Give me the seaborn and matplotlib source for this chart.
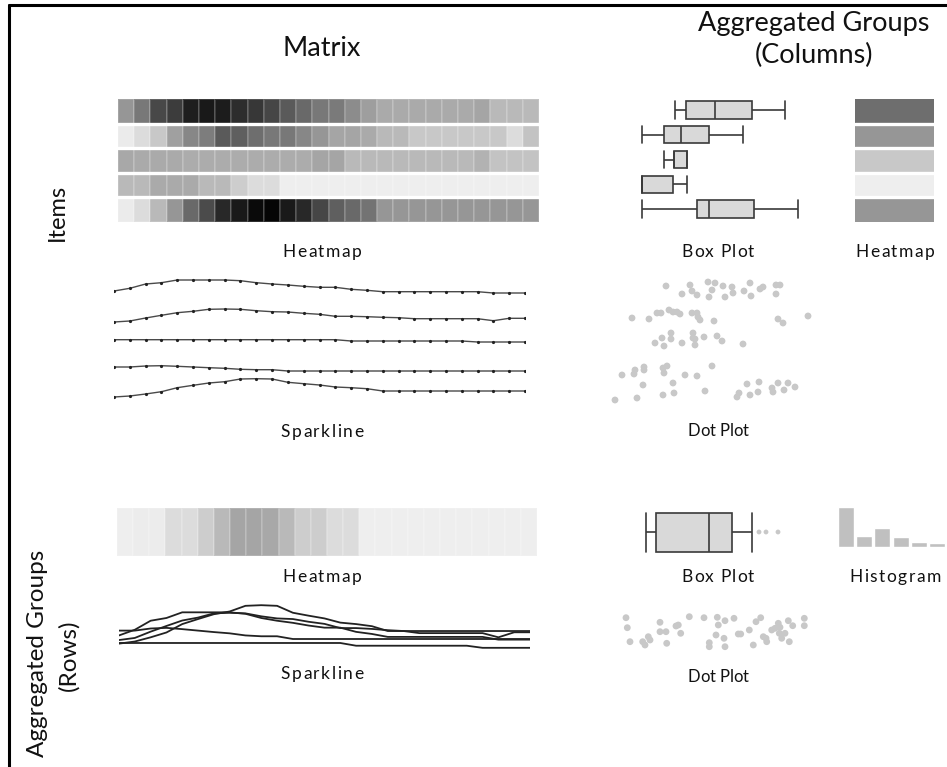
import matplotlib
matplotlib.use("Agg")
import matplotlib.pyplot as plt
import seaborn as sns
import pandas as pd
import numpy as np
from matplotlib.lines import Line2D
from matplotlib.font_manager import FontProperties

# ---- data (darkness 0..255) ----
item_names = ["A", "B", "C", "D", "E"]

item_heat = [
    [105, 135, 183, 195, 225, 230, 227, 210, 200, 185, 165, 150, 135, 133, 115, 97, 85, 85, 85, 85, 85, 85, 90, 70, 70, 70],
    [20, 35, 55, 95, 120, 130, 165, 160, 145, 135, 135, 120, 105, 90, 90, 85, 70, 70, 55, 55, 55, 55, 55, 55, 35, 60],
    [87, 85, 85, 85, 83, 83, 83, 83, 83, 83, 83, 83, 90, 90, 70, 70, 70, 70, 70, 70, 70, 70, 77, 60, 60, 60],
    [70, 70, 85, 85, 85, 70, 70, 50, 35, 35, 17, 17, 17, 17, 17, 17, 17, 17, 17, 17, 17, 17, 17, 17, 17, 17],
    [20, 35, 70, 105, 150, 180, 215, 230, 245, 250, 230, 215, 185, 160, 150, 140, 105, 105, 105, 105, 105, 105, 105, 105, 105, 105],
]
item_heat_agg = [145, 105, 55, 17, 105]
row_heat_agg = [17, 19, 19, 35, 35, 50, 70, 90, 90, 87, 70, 50, 50, 35, 35,
                17, 17, 17, 17, 17, 17, 17, 17, 17, 17, 17]

# sparkline values (rise above each line's own minimum)
spark_1 = [2.0, 4.7, 9.0, 10.3, 13.0, 13.0, 13.0, 13.0, 12.3, 10.3, 9.0, 8.0, 6.7, 5.7,
           5.7, 3.7, 2.7, 1.3, 1.3, 1.3, 1.3, 1.3, 1.3, 1.3, 0, 0, 0]
spark_2 = [0, 1.0, 4.0, 6.7, 9.3, 10.7, 12.7, 13.0, 12.7, 11.3, 10.3, 10.0, 8.7, 7.7,
           5.7, 5.7, 5.3, 4.7, 4.3, 3.3, 3.3, 3.3, 3.3, 3.3, 1.3, 3.7, 3.7]
spark_3 = [2.3] * 15 + [1.0] * 8 + [0] * 4
spark_4 = [4.0, 4.0, 5.0, 5.3, 4.7, 4.0, 3.3, 2.7, 1.7, 1.3, 1.3] + [0] * 16
spark_5 = [0, 1.0, 3.0, 5.3, 9.3, 11.7, 14.0, 15.3, 18.0, 18.3, 18.0, 14.7, 13.3, 12.0,
           10.0, 9.3, 8.3] + [6.0] * 10
sparks = [spark_1, spark_2, spark_3, spark_4, spark_5]
spark_offsets = [107, 78, 58, 29, 3]          # item rows
agg_spark_offsets = [9.7, 9.5, 5.8, 10.0, 7.8]  # overlaid rows

# box plot five-number summaries per item
item_box_values = [
    [75, 86, 115, 152, 185],
    [42, 64, 81, 109, 143],
    [64, 74, 74, 87, 87],
    [42, 42, 42, 73, 87],
    [42, 97, 109, 154, 198],
]
agg_box_values = [46, 56, 109, 132, 152]
agg_box_fliers = [159, 166, 178]

# dot plot, items
dots_x = [
    [66, 90, 92, 82, 97, 108, 115, 112, 109, 123, 132, 133, 125, 144, 150, 151, 160, 163, 176, 180, 176],
    [32, 49, 57, 61, 69, 73, 77, 80, 92, 97, 98, 100, 114, 178, 183, 208],
    [71, 62, 71, 55, 64, 82, 93, 93, 95, 95, 104, 117, 122, 143],
    [22, 34, 35, 44, 44, 63, 67, 64, 85, 97, 112],
    [43, 73, 15, 37, 63, 74, 105, 137, 139, 147, 150, 158, 159, 172, 173, 178, 184, 188, 195],
]
dots_y = [
    [119, 120, 114, 111, 110, 123, 122, 115, 108, 119, 118, 112, 108, 114, 122, 109, 116, 118, 120, 120, 111],
    [87, 86, 92, 92, 95, 93, 93, 91, 92, 92, 88, 85, 84, 86, 82, 89],
    [72, 67, 66, 62, 59, 62, 72, 67, 66, 60, 68, 69, 64, 61],
    [30, 31, 35, 38, 35, 37, 39, 32, 30, 29, 39],
    [20, 22, 5, 7, 10, 12, 14, 8, 12, 21, 10, 13, 23, 17, 13, 22, 15, 22, 18],
]

# dot plot, aggregated row
agg_dots_x = [26, 27.3, 30, 42.7, 45, 48.3, 50, 60, 60, 66, 66.7, 76, 78.3, 80.7, 89.3, 104,
              117.3, 118.3, 125, 134, 116, 124, 125, 109.3, 109.3, 138.3, 140.7, 149.3, 153.3,
              156, 160.7, 163.3, 166, 166.7, 171.7, 175, 178.3, 180, 179.3, 181.7, 185, 188.3,
              189.3, 192.7, 204.3, 204.3]
agg_dots_y = [37.3, 27.3, 13.3, 13.3, 10, 18.3, 15, 32.7, 23.3, 23.3, 11.7, 29, 30, 21.7, 38.3,
              37.3, 37.7, 30, 34.3, 36.7, 20, 16.7, 8.3, 12.3, 8.3, 21, 21, 25, 10, 33.3, 37.3,
              18.3, 16.7, 13.3, 25, 26.7, 31.7, 27.7, 21.7, 16.7, 21.7, 34.3, 13.3, 29.3, 36.7,
              29.3]

hist_counts = [40, 11, 19, 10, 5, 4]

W, H = 947, 767
BOX_FILL = "#d9d9d9"
BOX_LINE = "#3a3a3a"
DOT = "#c8c8c8"
FAMILY = ['Lato', 'DejaVu Sans']
SEP = (1, 1, 1, 0.15)

sns.set_theme(style="white")
plt.rcParams['font.family'] = FAMILY

fig = plt.figure(figsize=(W / 100, H / 100), dpi=100)
renderer = fig.canvas.get_renderer()


def px_axes(x0, y0, x1, y1):
    return fig.add_axes([x0 / W, 1 - y1 / H, (x1 - x0) / W, (y1 - y0) / H])


def title(x, y, s, size, **kw):
    fig.text(x / W, 1 - y / H, s, ha="center", va="center", fontsize=size,
             color="#111111", **kw)


def label(x, base, s, size=12.5, spacing=1.5):
    # centred label with a little letter spacing, drawn on a common baseline
    prop = FontProperties(family=FAMILY, size=size)

    def width(t):
        return renderer.get_text_width_height_descent(t, prop, ismath=False)[0] if t else 0.0

    total = width(s) + spacing * (len(s) - 1)
    left = x - total / 2
    for i, ch in enumerate(s):
        if ch == " ":
            continue
        cx = left + width(s[:i]) + spacing * i
        fig.text(cx / W, 1 - base / H, ch, ha="left", va="baseline",
                 fontproperties=prop, color="#111111")


# ---- items heatmap ----
ax = px_axes(118, 99, 539, 222)
sns.heatmap(pd.DataFrame(item_heat), cmap="gray_r", vmin=0, vmax=255, cbar=False,
            linewidths=0.3, linecolor=SEP, ax=ax)
for r in range(1, 5):
    ax.axhline(r, color="white", lw=2.4)
ax.set_axis_off()

# ---- items aggregated heatmap column ----
ax = px_axes(855, 99, 934, 222)
sns.heatmap(pd.DataFrame({"agg": item_heat_agg}), cmap="gray_r", vmin=0, vmax=255,
            cbar=False, ax=ax)
for r in range(1, 5):
    ax.axhline(r, color="white", lw=2.4)
ax.set_axis_off()

# ---- items box plots ----
ax = px_axes(600, 97.6, 820, 221.4)
box_df = pd.DataFrame({
    "item": np.repeat(item_names, 5),
    "value": np.concatenate(item_box_values),
})
sns.boxplot(data=box_df, x="value", y="item", orient="h", whis=(0, 100), width=0.7,
            color=BOX_FILL, saturation=1, linecolor=BOX_LINE, linewidth=1.2,
            showfliers=False, capwidths=0.7, ax=ax)
ax.set_xlim(0, 220)
ax.set_axis_off()

# ---- items sparklines ----
ax = px_axes(114, 270, 525, 400)
for vals, off in zip(sparks, spark_offsets):
    sns.lineplot(x=np.arange(len(vals)), y=np.array(vals) + off, ax=ax, color="#4a4a4a",
                 lw=1.0, marker="o", markersize=2.3, markeredgewidth=0,
                 markerfacecolor="#222222")
ax.set_xlim(0, 26)
ax.set_ylim(0, 130)
ax.set_axis_off()

# ---- items dot plot ----
ax = px_axes(600, 275, 820, 405)
for xs, ys in zip(dots_x, dots_y):
    sns.scatterplot(x=xs, y=ys, color=DOT, s=24, edgecolor="none", ax=ax)
ax.set_xlim(0, 220)
ax.set_ylim(0, 130)
ax.set_axis_off()

# ---- aggregated row heatmap ----
ax = px_axes(117, 508, 537, 556)
sns.heatmap(pd.DataFrame([row_heat_agg]), cmap="gray_r", vmin=0, vmax=255, cbar=False,
            linewidths=0.3, linecolor=SEP, ax=ax)
ax.set_axis_off()

# ---- aggregated row box plot ----
ax = px_axes(600, 502, 820, 562)
sns.boxplot(x=agg_box_values, orient="h", whis=(0, 100), width=0.65, color=BOX_FILL,
            saturation=1, linecolor=BOX_LINE, linewidth=1.2, showfliers=False,
            capwidths=0.65, ax=ax)
sns.scatterplot(x=agg_box_fliers, y=[0] * len(agg_box_fliers), color=DOT, s=12,
                edgecolor="none", ax=ax)
ax.set_xlim(0, 220)
ax.set_ylim(0.5, -0.5)
ax.set_axis_off()

# ---- aggregated row histogram ----
ax = px_axes(836.8, 507, 946.2, 547)
sns.barplot(x=list(range(len(hist_counts))), y=hist_counts, color="#c0c0c0",
            saturation=1, width=0.88, ax=ax)
ax.set_xlim(-0.5, 5.5)
ax.set_ylim(0, 40)
ax.set_axis_off()

# ---- aggregated row sparkline ----
ax = px_axes(119, 590, 530, 660)
for vals, off in zip(sparks, agg_spark_offsets):
    sns.lineplot(x=np.arange(len(vals)), y=np.array(vals) + off, ax=ax, color="#222222",
                 lw=1.3)
ax.set_xlim(0, 26)
ax.set_ylim(0, 70 / 2.1)
ax.set_axis_off()

# ---- aggregated row dot plot ----
ax = px_axes(600, 605, 820, 655)
sns.scatterplot(x=agg_dots_x, y=agg_dots_y, color=DOT, s=24, edgecolor="none", ax=ax)
ax.set_xlim(0, 220)
ax.set_ylim(0, 50)
ax.set_axis_off()

# ---- text ----
title(322, 49, "Matrix", 19.5)
title(814, 24, "Aggregated Groups", 19.5)
title(814, 55, "(Columns)", 19.5)
title(57, 212, "Items", 17, rotation=90)
title(38, 653, "Aggregated Groups", 17.5, rotation=90)
title(69, 655, "(Rows)", 17.5, rotation=90)

label(322, 257, "Heatmap")
label(718, 257, "Box Plot", spacing=1.1)
label(895, 257, "Heatmap")
label(322, 437, "Sparkline")
label(718, 436, "Dot Plot", size=12, spacing=0)
label(322, 582, "Heatmap")
label(718, 582, "Box Plot", spacing=1.1)
label(895, 582, "Histogram")
label(322, 679, "Sparkline")
label(718, 682, "Dot Plot", size=12, spacing=0)

# frame lines at top and left
fig.add_artist(Line2D([8.5 / W, 1], [1 - 4.5 / H] * 2, color="black", lw=2.2))
fig.add_artist(Line2D([8.5 / W] * 2, [0, 1 - 4.5 / H], color="black", lw=2.2))

fig.savefig("out.png", dpi=100)
